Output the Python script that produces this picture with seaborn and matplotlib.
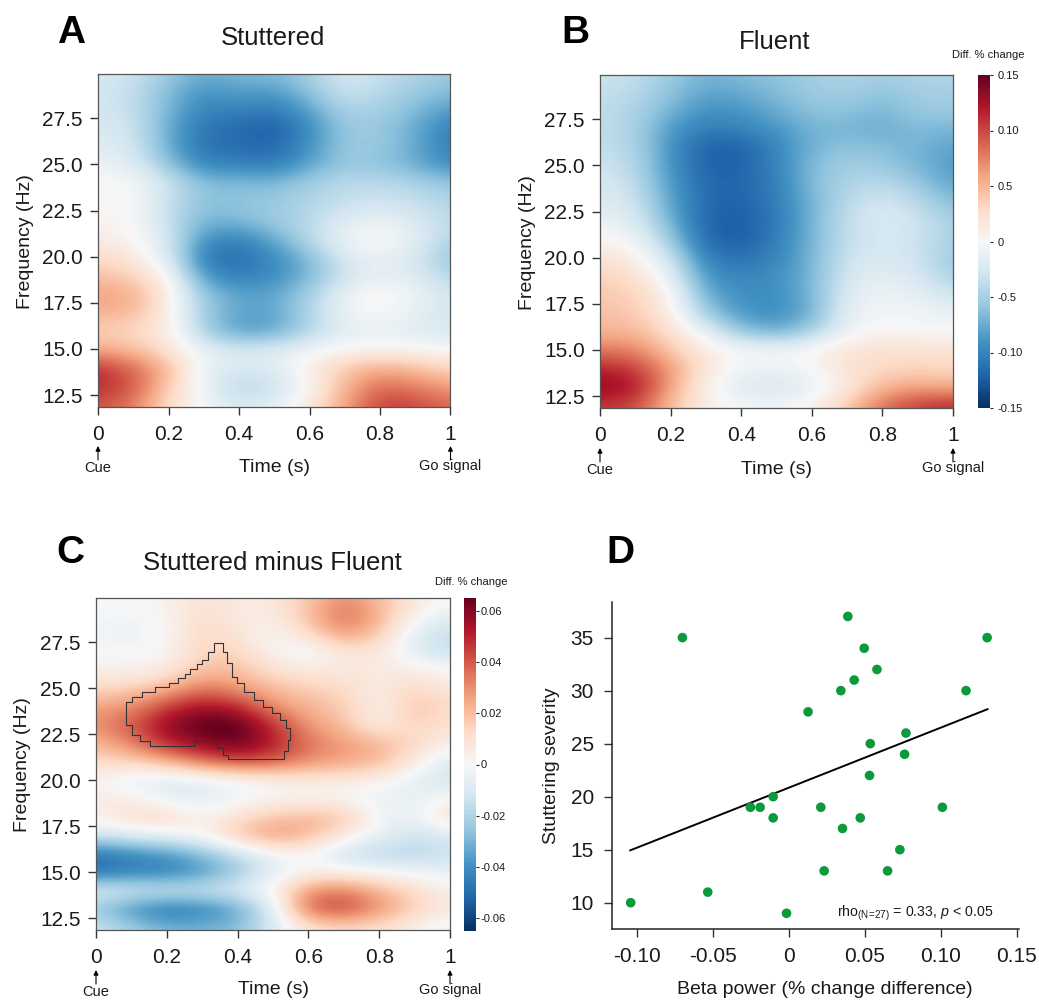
import numpy as np
import pandas as pd
import seaborn as sns
import matplotlib
matplotlib.use("Agg")
import matplotlib.pyplot as plt

W, H = 1039, 1000

time_grid = [0, .1, .2, .3, .4, .5, .6, .7, .8, .9, 1]
freq_grid = list(range(12, 31))

stuttered = [
    [.095, .080, .025, -.003, -.025, -.015, .015, .060, .105, .100, .085],
    [.115, .095, .040, -.012, -.045, -.035, .002, .050, .085, .075, .060],
    [.110, .085, .050, -.012, -.022, -.018, .012, .040, .055, .045, .030],
    [.055, .045, .020, -.015, -.025, -.020, -.008, .002, .003, .002, -.005],
    [.035, .030, .012, -.050, -.085, -.080, -.045, -.015, -.012, -.018, -.025],
    [.055, .050, .012, -.055, -.080, -.080, -.045, -.008, .002, -.012, -.028],
    [.060, .055, .014, -.060, -.080, -.080, -.050, -.010, .008, -.008, -.030],
    [.045, .035, .002, -.090, -.105, -.095, -.070, -.030, -.012, -.022, -.045],
    [.028, .015, -.018, -.110, -.115, -.095, -.065, -.020, -.008, -.025, -.060],
    [.012, .004, -.025, -.090, -.100, -.075, -.040, -.008, .006, -.015, -.045],
    [.004, .002, -.035, -.070, -.065, -.055, -.040, -.020, -.008, -.025, -.040],
    [.001, .000, -.035, -.062, -.060, -.055, -.045, -.035, -.030, -.035, -.045],
    [.002, .002, -.030, -.065, -.065, -.068, -.050, -.040, -.040, -.045, -.060],
    [-.008, -.018, -.060, -.100, -.100, -.105, -.080, -.055, -.060, -.075, -.095],
    [-.018, -.025, -.075, -.112, -.115, -.120, -.090, -.055, -.055, -.075, -.105],
    [-.022, -.030, -.075, -.110, -.115, -.125, -.095, -.055, -.055, -.075, -.105],
    [-.028, -.035, -.070, -.100, -.100, -.105, -.080, -.045, -.050, -.065, -.085],
    [-.028, -.035, -.065, -.090, -.080, -.085, -.060, -.030, -.040, -.055, -.065],
    [-.022, -.030, -.055, -.075, -.065, -.065, -.050, -.022, -.035, -.045, -.055],
]
fluent = [
    [.105, .100, .045, .012, -.003, -.005, .005, .040, .085, .105, .115],
    [.135, .125, .060, .004, -.022, -.025, -.015, .012, .050, .060, .055],
    [.115, .105, .065, .018, -.006, -.010, .000, .022, .030, .032, .030],
    [.080, .075, .040, .012, .000, -.003, .004, .022, .024, .024, .020],
    [.050, .050, .025, -.012, -.060, -.075, -.050, -.008, .004, .000, .000],
    [.045, .040, .012, -.055, -.088, -.095, -.075, -.012, -.003, -.006, -.012],
    [.040, .035, .006, -.075, -.092, -.095, -.070, -.020, -.006, -.012, -.030],
    [.035, .025, -.012, -.090, -.100, -.092, -.070, -.025, -.015, -.025, -.050],
    [.020, .010, -.030, -.105, -.112, -.100, -.070, -.030, -.022, -.030, -.055],
    [.005, -.005, -.055, -.118, -.125, -.105, -.070, -.035, -.025, -.030, -.050],
    [-.012, -.020, -.070, -.122, -.125, -.108, -.070, -.035, -.020, -.030, -.050],
    [-.018, -.028, -.080, -.118, -.122, -.105, -.070, -.040, -.025, -.040, -.065],
    [-.025, -.035, -.085, -.118, -.118, -.105, -.065, -.045, -.040, -.055, -.080],
    [-.030, -.040, -.090, -.122, -.122, -.100, -.065, -.050, -.055, -.070, -.085],
    [-.035, -.045, -.090, -.122, -.122, -.100, -.070, -.060, -.065, -.070, -.080],
    [-.037, -.048, -.085, -.105, -.100, -.088, -.070, -.070, -.075, -.065, -.070],
    [-.037, -.045, -.070, -.092, -.088, -.075, -.060, -.060, -.070, -.055, -.055],
    [-.035, -.040, -.060, -.080, -.075, -.065, -.055, -.050, -.060, -.050, -.050],
    [-.030, -.035, -.055, -.070, -.065, -.060, -.050, -.045, -.050, -.045, -.045],
]
difference = [
    [-.012, -.022, -.030, -.030, -.028, -.010, .008, .012, .010, .002, -.005],
    [-.025, -.040, -.048, -.045, -.035, -.010, .040, .045, .030, .016, .006],
    [-.006, -.010, -.012, -.012, -.008, .002, .030, .035, .022, .012, .003],
    [-.050, -.045, -.045, -.038, -.025, -.006, .002, .003, .000, -.002, -.005],
    [-.048, -.042, -.038, -.028, -.015, -.004, .001, -.013, -.019, -.019, -.015],
    [-.012, -.008, -.004, .001, .018, .030, .022, .006, -.005, -.014, -.009],
    [.003, .012, .014, .002, .010, .018, .022, .020, -.002, -.005, .012],
    [.005, .005, -.006, -.008, -.002, .001, .002, .000, -.005, -.006, .002],
    [.002, -.006, -.009, -.006, -.002, .003, .005, .006, .002, -.005, -.014],
    [.012, .014, .022, .035, .042, .040, .030, .026, .022, .006, -.010],
    [.022, .032, .050, .058, .065, .052, .035, .028, .022, .013, .004],
    [.030, .040, .058, .068, .068, .048, .028, .020, .003, .016, .008],
    [.026, .030, .045, .055, .050, .030, .022, .017, .001, .020, .012],
    [.013, .015, .022, .035, .028, .020, .016, .013, .004, .014, .006],
    [.003, .003, .005, .020, .020, .010, .006, .006, .006, .004, .001],
    [.000, -.002, .001, .014, .014, .002, -.005, .008, .008, -.008, -.016],
    [-.002, -.003, .000, .014, .008, .000, .012, .030, .018, -.008, -.016],
    [-.001, -.002, .001, .012, .006, .004, .020, .038, .024, .003, -.006],
    [.001, .000, .004, .009, .006, .006, .018, .030, .020, .007, .000],
]

cluster_t = [.086, .102, .130, .167, .205, .233, .250, .266, .285, .299, .315, .334, .348,
             .358, .370, .384, .398, .417, .445, .473, .497, .520, .537, .547, .541, .530,
             .396, .374, .358, .341, .276, .276, .180, .153, .125, .102, .086, .086]
cluster_f = [24.27, 24.54, 24.81, 25.08, 25.30, 25.55, 25.77, 26.04, 26.31, 26.53, 26.98, 27.48, 27.48,
             26.98, 26.35, 25.62, 25.26, 24.81, 24.36, 24.00, 23.64, 23.28, 22.82, 22.19, 21.56, 21.16,
             21.16, 21.38, 21.74, 22.10, 22.10, 21.87, 21.87, 22.14, 22.46, 23.00, 23.64, 24.27]

beta_power = [-.1044, -.0703, -.0536, -.0255, -.0191, -.0105, -.0105, -.0017, .0125, .0209, .0231,
              .0341, .0352, .0387, .0429, .0469, .0495, .0530, .0535, .0579, .0649, .0730, .0761,
              .0770, .1010, .1166, .1305]
severity = [10, 35, 11, 19, 19, 20, 18, 9, 28, 19, 13, 30, 17, 37, 31, 18, 34, 22, 25, 32, 13, 15, 24,
            26, 19, 30, 35]
fit_x = [-.1048, .1309]
fit_y = [14.93, 28.26]

freq_ticks = [12.5, 15, 17.5, 20, 22.5, 25, 27.5]
freq_labels = ["12.5", "15.0", "17.5", "20.0", "22.5", "25.0", "27.5"]
time_ticks = [0, .2, .4, .6, .8, 1]
time_labels = ["0", "0.2", "0.4", "0.6", "0.8", "1"]
cb_ab_ticks = [-.15, -.10, -.05, 0, .05, .10, .15]
cb_ab_labels = ["-0.15", "-0.10", "-0.5", "0", "0.5", "0.10", "0.15"]
cb_c_ticks = [-.06, -.04, -.02, 0, .02, .04, .06]
cb_c_labels = ["-0.06", "-0.04", "-0.02", "0", "0.02", "0.04", "0.06"]
beta_ticks = [-.10, -.05, 0, .05, .10, .15]
beta_labels = ["-0.10", "-0.05", "0", "0.05", "0.10", "0.15"]
sev_ticks = [10, 15, 20, 25, 30, 35]

sns.set_style("ticks")
plt.rcParams["font.family"] = ["Liberation Sans", "DejaVu Sans"]
plt.rcParams["mathtext.fontset"] = "custom"
plt.rcParams["mathtext.rm"] = "Liberation Sans"
plt.rcParams["mathtext.it"] = "Liberation Sans:italic"
TXT = "#1a1a1a"
cmap = sns.color_palette("RdBu_r", as_cmap=True)

fig = plt.figure(figsize=(W / 100, H / 100), dpi=100, facecolor="white")


def box(x0, y0, x1, y1):
    return fig.add_axes([x0 / W, 1 - y1 / H, (x1 - x0) / W, (y1 - y0) / H])


def ptext(x, y, s, **kw):
    kw.setdefault("ha", "center")
    kw.setdefault("va", "center")
    kw.setdefault("color", TXT)
    fig.text(x / W, 1 - y / H, s, **kw)


def tf_panel(rect, data, vmax, ylab_x, arrow_y, label_y):
    ax = box(*rect)
    dt = time_grid[1] - time_grid[0]
    df = freq_grid[1] - freq_grid[0]
    im = ax.imshow(np.array(data), origin="lower", aspect="auto", cmap=cmap, vmin=-vmax, vmax=vmax,
                   interpolation="bicubic",
                   extent=[time_grid[0] - dt / 2, time_grid[-1] + dt / 2,
                           freq_grid[0] - df / 2, freq_grid[-1] + df / 2])
    ax.set_xlim(0, 1)
    ax.set_ylim(11.85, 29.9)
    ax.set_xticks(time_ticks, time_labels)
    ax.set_yticks(freq_ticks, freq_labels)
    ax.tick_params(labelsize=15, length=6, width=1, color="#333333", labelcolor=TXT, pad=5)
    ax.tick_params(axis="x", pad=7)
    for s in ax.spines.values():
        s.set_linewidth(0.9)
        s.set_color("#555555")
    ptext(ylab_x, (rect[1] + rect[3]) / 2 + 1, "Frequency (Hz)", fontsize=14, rotation=90)
    ptext((rect[0] + rect[2]) / 2, label_y, "Time (s)", fontsize=14)
    for xp, s in [(rect[0], "Cue"), (rect[2], "Go signal")]:
        fig.add_artist(matplotlib.patches.FancyArrowPatch(
            (xp / W, 1 - (arrow_y + 14) / H), (xp / W, 1 - arrow_y / H),
            transform=fig.transFigure, arrowstyle="-|>", mutation_scale=7, lw=0.8, color="black",
            shrinkA=0, shrinkB=0))
        ptext(xp, arrow_y + 22 if s == "Cue" else arrow_y + 20, s, fontsize=10.5)
    return ax, im


def colorbar(rect, im, ticks, labels, title_xy, pad):
    cax = box(*rect)
    cb = fig.colorbar(im, cax=cax)
    cb.set_ticks(ticks, labels=labels)
    cb.ax.tick_params(labelsize=8, length=2.5, width=0.8, pad=pad, labelcolor=TXT)
    cb.outline.set_visible(False)
    ptext(title_xy[0], title_xy[1], "Diff. % change", fontsize=8)


# Panel A
ax_a, im_a = tf_panel((98, 74, 450.5, 407), stuttered, .15, 25, 446, 468)
ptext(273, 38, "Stuttered", fontsize=18.5)
ptext(71, 33, "A", fontsize=28, fontweight="bold", color="black")

# Panel B
ax_b, im_b = tf_panel((600, 75, 953, 408), fluent, .15, 528, 448, 469)
ptext(775, 42, "Fluent", fontsize=18.5)
ptext(575, 33, "B", fontsize=28, fontweight="bold", color="black")
colorbar((978, 75, 990, 408), im_b, cb_ab_ticks, cb_ab_labels, (988, 55), 3)

# Panel C
ax_c, im_c = tf_panel((96, 598, 450, 930), difference, .065, 23, 970, 990)
ax_c.plot(cluster_t, cluster_f, color="#333333", lw=0.8, drawstyle="steps-post")
ptext(272, 563, "Stuttered minus Fluent", fontsize=18.5)
ptext(70, 553, "C", fontsize=28, fontweight="bold", color="black")
colorbar((463.5, 598, 476, 931), im_c, cb_c_ticks, cb_c_labels, (471, 582), 1)

# Panel D
ax_d = box(612, 602, 1019, 929)
df_d = pd.DataFrame({"beta": beta_power, "severity": severity})
sns.lineplot(x=fit_x, y=fit_y, color="black", lw=1.4, ax=ax_d, legend=False, zorder=2)
sns.scatterplot(data=df_d, x="beta", y="severity", color="#0a9a3c", s=48, edgecolor="none", ax=ax_d,
                zorder=3, clip_on=False)
ax_d.set_xlim(-.1167, .1515)
ax_d.set_ylim(7.52, 38.36)
ax_d.set_xticks(beta_ticks, beta_labels)
ax_d.set_yticks(sev_ticks, [str(v) for v in sev_ticks])
ax_d.set_xlabel("")
ax_d.set_ylabel("")
ax_d.tick_params(labelsize=15, length=6, width=1, color="#333333", labelcolor=TXT, pad=7)
sns.despine(ax=ax_d)
for s in ax_d.spines.values():
    s.set_linewidth(1.1)
    s.set_color("#222222")
ptext(552, 766, "Stuttering severity", fontsize=14, rotation=90)
ptext(825, 990, "Beta power (% change difference)", fontsize=14)
ptext(620, 553, "D", fontsize=28, fontweight="bold", color="black")
ax_d.text(.0833, 9.0, r"rho$_{\mathrm{(N\!=\!27)}}$ = 0.33, $\mathit{p}$ < 0.05", fontsize=10.2, ha="center",
          va="center", color=TXT)

fig.savefig("out.png", dpi=100, facecolor="white")
